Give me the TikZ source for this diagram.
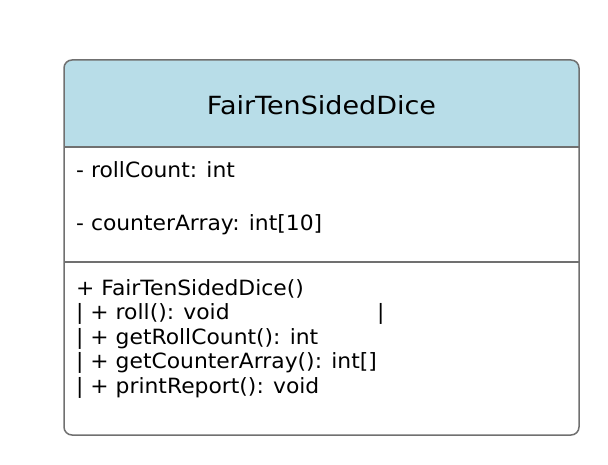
\documentclass[tikz,border=0pt]{standalone}
\usepackage{fontspec}
\setmainfont{DejaVu Sans}
\newfontfamily\titlefont[FakeStretch=1.08]{DejaVu Sans}
\newfontfamily\memberfont[FakeStretch=1.04]{DejaVu Sans}
\definecolor{hdr}{HTML}{B8DDE8}
\definecolor{edge}{HTML}{707070}
\begin{document}
\begin{tikzpicture}[x=1pt,y=1pt,
  member/.style={anchor=base west,inner sep=0pt,font=\memberfont\fontsize{21}{24}\selectfont,text=black},
  title/.style={anchor=base,inner sep=0pt,font=\titlefont\fontsize{25}{28}\selectfont,text=black}]
\useasboundingbox (0,0) rectangle (608,464);
% box
\path[fill=hdr,rounded corners=8pt] (64,317) -- (64,404) -- (579,404) -- (579,317) -- cycle;
\path[fill=hdr] (64,317) rectangle (579,330);
\draw[edge,line width=1.5pt,rounded corners=8pt] (64,29) rectangle (579,404);
\coordinate (hl) at (64,317); \coordinate (hr) at (579,317);
\coordinate (dl) at (64,202); \coordinate (dr) at (579,202);
\draw[edge,line width=1.5pt] (hl) -- (hr);
\draw[edge,line width=1.5pt] (dl) -- (dr);
\node[title] (t) at (321.5,349) {FairTenSidedDice};
\node[member] (a1) at (76,286.7) {- rollCount: int};
\node[member] (a2) at (76,233.3) {- counterArray: int[10]};
\node[member] (m1) at (76,168) {+ FairTenSidedDice()};
\node[member] (m2) at (76,144.7) {\makebox[301pt][l]{| + roll(): void}|};
\node[member] (m3) at (76,120) {| + getRollCount(): int};
\node[member] (m4) at (76,95.7) {| + getCounterArray(): int[]};
\node[member] (m5) at (76,71) {| + printReport(): void};
\end{tikzpicture}
\end{document}
